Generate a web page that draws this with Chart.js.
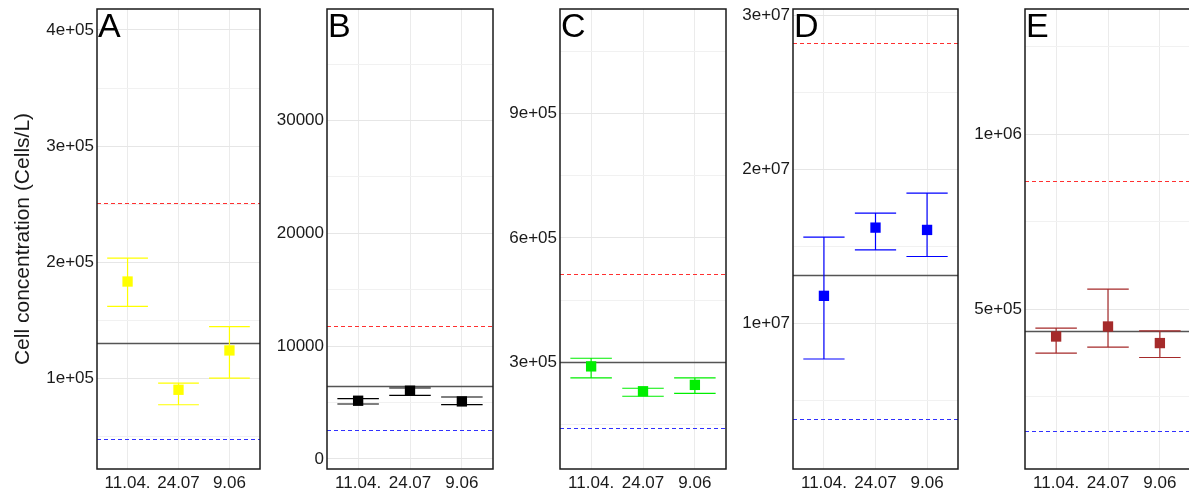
<!DOCTYPE html>
<html>
<head>
<meta charset="utf-8">
<script src="https://cdn.jsdelivr.net/npm/chart.js@4.4.1/dist/chart.umd.min.js"></script>
<style>
  html, body { margin: 0; padding: 0; background: #fff; overflow: hidden; }
  body { width: 1189px; height: 493px; position: relative; }
  canvas { position: absolute; top: 0; }
</style>
</head>
<body>
<canvas id="pA"></canvas>
<canvas id="pB"></canvas>
<canvas id="pC"></canvas>
<canvas id="pD"></canvas>
<canvas id="pE"></canvas>
<script>
// sampling dates (x categories)
const categories = ['11.04.', '24.07', '9.06'];

// A - yellow
const valuesA = [183200, 89900, 123800];
const upperA = [203400, 95700, 144400];
const lowerA = [161700, 77000, 100000];
const refA = [130100, 250700, 47500]; // mean, upper dashed, lower dashed
const yTicksA = [100000, 200000, 300000, 400000];
const yLabelsA = ['1e+05', '2e+05', '3e+05', '4e+05'];

// B - black
const valuesB = [5160, 6050, 5100];
const upperB = [5340, 6290, 5490];
const lowerB = [4870, 5630, 4810];
const refB = [6430, 11750, 2600];
const yTicksB = [0, 10000, 20000, 30000];
const yLabelsB = ['0', '10000', '20000', '30000'];

// C - green
const valuesC = [290000, 230000, 245400];
const upperC = [309600, 237200, 262300];
const lowerC = [262300, 217900, 225100];
const refC = [300000, 513500, 141500];
const yTicksC = [300000, 600000, 900000];
const yLabelsC = ['3e+05', '6e+05', '9e+05'];

// D - blue
const valuesD = [11810000, 16230000, 16080000];
const upperD = [15610000, 17170000, 18460000];
const lowerD = [7720000, 14790000, 14360000];
const refD = [13190000, 28170000, 3830000];
const yTicksD = [10000000, 20000000, 30000000];
const yLabelsD = ['1e+07', '2e+07', '3e+07'];

// E - brown
const valuesE = [421700, 450300, 402900];
const upperE = [445700, 557100, 438000];
const lowerE = [374300, 391400, 361700];
const refE = [438000, 866600, 150300];
const yTicksE = [500000, 1000000];
const yLabelsE = ['5e+05', '1e+06'];

Chart.defaults.font.family = '"Liberation Sans", Arial, sans-serif';
Chart.defaults.color = '#1a1a1a';

const panelDecor = {
  id: 'panelDecor',
  beforeDatasetsDraw(chart, args, o) {
    const { ctx, chartArea: a, scales: { x, y } } = chart;
    ctx.save();
    ctx.beginPath();
    ctx.rect(a.left, a.top, a.right - a.left, a.bottom - a.top);
    ctx.clip();

    const hline = (v, color, width, dash) => {
      const py = Math.round(y.getPixelForValue(v)) + 0.5;
      ctx.strokeStyle = color;
      ctx.lineWidth = width;
      ctx.setLineDash(dash);
      ctx.beginPath();
      ctx.moveTo(a.left, py);
      ctx.lineTo(a.right, py);
      ctx.stroke();
    };
    hline(o.ref[1], '#ff3030', 1, [4, 3]);
    hline(o.ref[2], '#3030ff', 1, [4, 3]);
    hline(o.ref[0], '#555555', 1.6, []);

    // error bars
    ctx.setLineDash([]);
    ctx.strokeStyle = o.color;
    ctx.lineWidth = 1.2;
    o.hi.forEach((h, i) => {
      const xv = i + 1;
      const px = x.getPixelForValue(xv);
      const pl = x.getPixelForValue(xv - 0.4);
      const pr = x.getPixelForValue(xv + 0.4);
      const yh = y.getPixelForValue(h);
      const yl = y.getPixelForValue(o.lo[i]);
      ctx.beginPath();
      ctx.moveTo(px, yh); ctx.lineTo(px, yl);
      ctx.moveTo(pl, yh); ctx.lineTo(pr, yh);
      ctx.moveTo(pl, yl); ctx.lineTo(pr, yl);
      ctx.stroke();
    });
    ctx.restore();
  },
  afterDraw(chart, args, o) {
    const { ctx, chartArea: a } = chart;
    ctx.save();
    ctx.strokeStyle = '#1a1a1a';
    ctx.lineWidth = 1.5;
    ctx.strokeRect(a.left, a.top, a.right - a.left, a.bottom - a.top);
    ctx.fillStyle = '#000';
    ctx.font = '34px "Liberation Sans", Arial, sans-serif';
    ctx.textBaseline = 'alphabetic';
    ctx.fillText(o.letter, a.left + 1, a.top + 28);
    ctx.restore();
  }
};

function makePanel(id, opt) {
  const canvas = document.getElementById(id);
  canvas.width = opt.axisW + opt.plotW + 2;
  canvas.height = 493;
  canvas.style.left = (opt.left - opt.axisW) + 'px';

  const step = opt.ticks[1] - opt.ticks[0];
  const minor = [];
  for (let v = opt.ticks[0] - step / 2; v <= opt.max; v += step) {
    if (v >= opt.min) minor.push(v);
  }

  new Chart(canvas, {
    type: 'scatter',
    data: {
      datasets: [{
        data: opt.values.map((v, i) => ({ x: i + 1, y: v })),
        backgroundColor: opt.color,
        borderColor: opt.color,
        pointStyle: 'rect',
        pointRadius: 7.3,
        borderWidth: 0
      }]
    },
    options: {
      responsive: false,
      animation: false,
      events: [],
      layout: { autoPadding: false, padding: { top: 9, right: 2, left: 0, bottom: 0 } },
      plugins: {
        legend: { display: false },
        tooltip: { enabled: false },
        panelDecor: { ref: opt.ref, hi: opt.hi, lo: opt.lo, color: opt.color, letter: opt.letter }
      },
      scales: {
        x: {
          type: 'linear',
          min: 0.4,
          max: 3.6,
          afterBuildTicks: s => { s.ticks = [1, 2, 3].map(v => ({ value: v })); },
          afterFit: s => { s.height = 24; s.paddingLeft = 0; s.paddingRight = 0; },
          ticks: {
            autoSkip: false,
            maxRotation: 0,
            padding: 4,
            font: { size: 17 },
            callback: v => categories[v - 1]
          },
          grid: { color: '#ebebeb', lineWidth: 1, drawTicks: false },
          border: { display: false }
        },
        y: {
          min: opt.min,
          max: opt.max,
          afterBuildTicks: s => {
            s.ticks = opt.ticks.concat(minor).sort((p, q) => p - q).map(v => ({ value: v }));
          },
          afterFit: s => { s.width = opt.axisW; s.paddingTop = 0; s.paddingBottom = 0; },
          ticks: {
            autoSkip: false,
            padding: 3,
            font: { size: 17 },
            callback: v => {
              const k = opt.ticks.indexOf(v);
              return k >= 0 ? opt.labels[k] : '';
            }
          },
          grid: {
            drawTicks: false,
            lineWidth: 1,
            color: c => (opt.ticks.indexOf(c.tick.value) >= 0 ? '#e6e6e6' : '#f1f1f1')
          },
          border: { display: false },
          title: {
            display: !!opt.title,
            text: opt.title || '',
            font: { size: 21 },
            color: '#1a1a1a',
            padding: { top: 11, bottom: 0 }
          }
        }
      }
    },
    plugins: [panelDecor]
  });
}

makePanel('pA', { letter: 'A', left: 97, plotW: 163, axisW: 97, min: 21600, max: 418100,
  values: valuesA, hi: upperA, lo: lowerA, ref: refA, ticks: yTicksA, labels: yLabelsA,
  color: '#ffff00', title: 'Cell concentration (Cells/L)' });
makePanel('pB', { letter: 'B', left: 327, plotW: 166, axisW: 70, min: -890, max: 39880,
  values: valuesB, hi: upperB, lo: lowerB, ref: refB, ticks: yTicksB, labels: yLabelsB,
  color: '#000000' });
makePanel('pC', { letter: 'C', left: 560, plotW: 166, axisW: 70, min: 42500, max: 1151900,
  values: valuesC, hi: upperC, lo: lowerC, ref: refC, ticks: yTicksC, labels: yLabelsC,
  color: '#00ee00' });
makePanel('pD', { letter: 'D', left: 793, plotW: 165, axisW: 70, min: 595000, max: 30390000,
  values: valuesD, hi: upperD, lo: lowerD, ref: refD, ticks: yTicksD, labels: yLabelsD,
  color: '#0000ff' });
makePanel('pE', { letter: 'E', left: 1025, plotW: 166, axisW: 70, min: 42900, max: 1358000,
  values: valuesE, hi: upperE, lo: lowerE, ref: refE, ticks: yTicksE, labels: yLabelsE,
  color: '#a52a2a' });
</script>
</body>
</html>
